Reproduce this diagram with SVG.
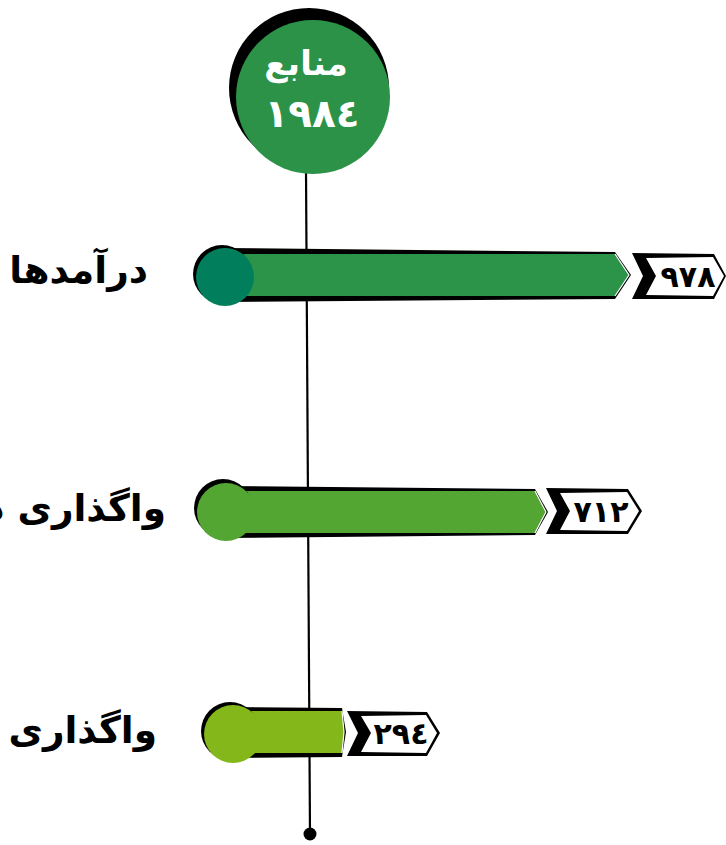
<svg xmlns="http://www.w3.org/2000/svg" width="726" height="845" viewBox="0 0 726 845">
<style>
.lbl{font-family:"DejaVu Sans","Noto Sans",sans-serif;font-weight:bold;font-size:37.5px;fill:#000}
.num{font-family:"DejaVu Sans","Noto Sans",sans-serif;font-weight:bold;font-size:30px;fill:#000;text-anchor:middle}
.hd{font-family:"DejaVu Sans","Noto Sans",sans-serif;font-weight:bold;fill:#fff;text-anchor:middle}
.sh{fill:#000}
.tw{fill:#fff}
.edge{fill:none;stroke:#fff;stroke-width:1.2}
</style>
<rect width="726" height="845" fill="#fff"/>
<g id="connectors">
<line x1="306" y1="170" x2="310" y2="834" stroke="#000" stroke-width="2.2"/>
<circle cx="310" cy="834" r="6.5" fill="#000"/>
</g>
<g id="header">
<circle cx="309" cy="88" r="80" fill="#000"/>
<circle cx="313" cy="97" r="77" fill="#2b9248"/>
<text class="hd" x="306" y="75" font-size="34">منابع</text>
<text class="hd" x="312" y="127" font-size="39">١٩٨٤</text>
</g>
<g id="bar1">
<polygon class="sh" points="222,248 615,252 631,275 615,299 222,302"/>
<polygon points="222,254 615,254 629,275 615,296 222,296" fill="#2c9448"/>
<polyline class="edge" points="615,254 629,275 615,296"/>
<circle cx="222" cy="274" r="29" fill="#000"/>
<circle cx="225" cy="277" r="29" fill="#017f5c"/>
<text class="lbl" x="148" y="283" text-anchor="end">درآمدها</text>
<polygon class="sh" points="632,253 714,254 726,276 714,299 632,299 643,276"/>
<polygon class="tw" points="646,258 713,257 724,276 713,296 646,295 656,276"/>
<text class="num" x="688" y="287">٩٧٨</text>
</g>
<g id="bar2">
<polygon class="sh" points="222,486 535,489 548,512 535,535 222,538"/>
<polygon points="222,491 535,491 546,512 535,533 222,533" fill="#54a633"/>
<polyline class="edge" points="535,491 546,512 535,533"/>
<circle cx="223" cy="508" r="29" fill="#000"/>
<circle cx="226" cy="512" r="29" fill="#54a633"/>
<text class="lbl" x="166" y="521" text-anchor="end">واگذاری د</text>
<polygon class="sh" points="546,488 628,489 642,511 628,534 546,534 557,511"/>
<polygon class="tw" points="560,493 627,492 639,511 627,531 560,530 570,511"/>
<text class="num" x="601" y="522">٧١٢</text>
</g>
<g id="bar3">
<polygon class="sh" points="230,707 342,708 346,732 342,757 230,758"/>
<polygon points="230,711 342,711 344,732 342,753 230,753" fill="#84b71a"/>
<polyline class="edge" points="342,711 344,732 342,753"/>
<circle cx="230" cy="731" r="29" fill="#000"/>
<circle cx="233" cy="734" r="29" fill="#84b71a"/>
<text class="lbl" x="157" y="743" text-anchor="end">واگذاری</text>
<polygon class="sh" points="347,711 427,712 440,733 427,756 347,756 358,733"/>
<polygon class="tw" points="361,716 426,715 437,733 426,753 361,752 371,733"/>
<text class="num" x="401" y="744">٢٩٤</text>
</g>
</svg>
